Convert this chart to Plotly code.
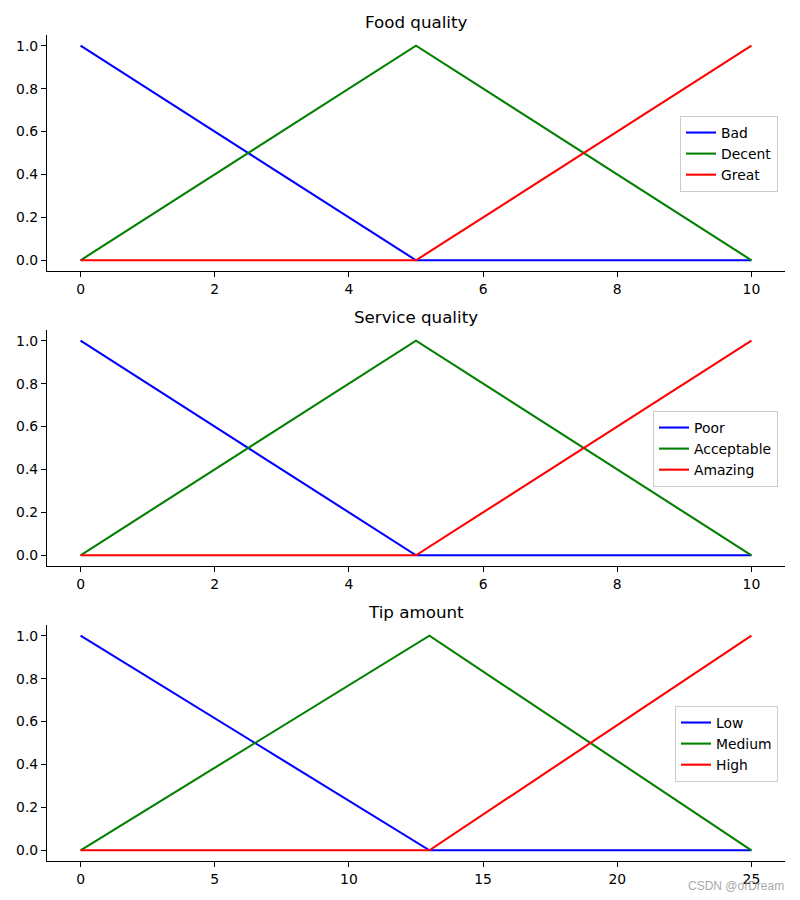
import plotly.graph_objects as go

# Food quality vertices
food_x = [0, 5, 10]
food_bad = [1, 0, 0]
food_decent = [0, 1, 0]
food_great = [0, 0, 1]

# Service quality vertices
serv_x = [0, 5, 10]
serv_poor = [1, 0, 0]
serv_acceptable = [0, 1, 0]
serv_amazing = [0, 0, 1]

# Tip amount vertices
tip_x = [0, 13, 25]
tip_low = [1, 0, 0]
tip_medium = [0, 1, 0]
tip_high = [0, 0, 1]

titles = ["Food quality", "Service quality", "Tip amount"]
names = [["Bad", "Decent", "Great"], ["Poor", "Acceptable", "Amazing"], ["Low", "Medium", "High"]]
xs = [food_x, serv_x, tip_x]
ys = [[food_bad, food_decent, food_great],
      [serv_poor, serv_acceptable, serv_amazing],
      [tip_low, tip_medium, tip_high]]
colors = ["#0000ff", "#008000", "#ff0000"]
xtick_vals = [[0, 2, 4, 6, 8, 10], [0, 2, 4, 6, 8, 10], [0, 5, 10, 15, 20, 25]]
xranges = [[-0.5, 10.5], [-0.5, 10.5], [-1.25, 26.25]]

W, H = 800, 900
FONT = "DejaVu Sans"
# pixel geometry (top, bottom) of each axes
ax_px = [(35, 271), (330, 566), (625, 861)]
leg_px = [(778, 116), (778, 411), (778, 706)]
left_px, right_px = 47, 785

fig = go.Figure()
layout = dict(
    width=W, height=H,
    margin=dict(l=0, r=0, t=0, b=0),
    paper_bgcolor="white", plot_bgcolor="white",
    font=dict(family=FONT, size=13.9, color="black"),
    showlegend=True,
    annotations=[],
)

for i in range(3):
    xa = "x" if i == 0 else f"x{i+1}"
    ya = "y" if i == 0 else f"y{i+1}"
    leg = "legend" if i == 0 else f"legend{i+1}"
    for j in range(3):
        fig.add_trace(go.Scatter(
            x=xs[i], y=ys[i][j], mode="lines", name=names[i][j],
            line=dict(color=colors[j], width=2.08),
            xaxis=xa, yaxis=ya, legend=leg,
        ))
    top, bot = ax_px[i]
    xkey = "xaxis" if i == 0 else f"xaxis{i+1}"
    ykey = "yaxis" if i == 0 else f"yaxis{i+1}"
    layout[xkey] = dict(
        domain=[left_px / W, right_px / W], anchor=ya, range=xranges[i],
        tickvals=xtick_vals[i], ticks="outside", ticklen=5, tickwidth=1.1, tickcolor="black",
        showline=True, linecolor="black", linewidth=1.1, showgrid=False, zeroline=False,
        tickfont=dict(family=FONT, size=13.9, color="black"),
    )
    layout[ykey] = dict(
        domain=[1 - bot / H, 1 - top / H], anchor=xa, range=[-0.05, 1.05],
        tickvals=[0, 0.2, 0.4, 0.6, 0.8, 1.0], tickformat=".1f",
        ticks="outside", ticklen=5, tickwidth=1.1, tickcolor="black",
        showline=True, linecolor="black", linewidth=1.1, showgrid=False, zeroline=False,
        tickfont=dict(family=FONT, size=13.9, color="black"),
    )
    lx, ly = leg_px[i]
    layout[leg] = dict(
        x=lx / W, y=1 - ly / H, xanchor="right", yanchor="top",
        xref="paper", yref="paper",
        bgcolor="rgba(255,255,255,0.8)", bordercolor="#cccccc", borderwidth=1,
        font=dict(family=FONT, size=13.9, color="black"), itemwidth=30,
        tracegroupgap=0,
    )
    layout["annotations"].append(dict(
        text=titles[i], x=(left_px + right_px) / 2 / W, y=1 - (top - 13) / H,
        xref="paper", yref="paper", xanchor="center", yanchor="middle",
        showarrow=False, font=dict(family=FONT, size=16.7, color="black"),
    ))

layout["annotations"].append(dict(
    text="CSDN @orDream", x=786 / W, y=1 - 886 / H, xref="paper", yref="paper",
    xanchor="right", yanchor="middle", showarrow=False,
    font=dict(family="Liberation Sans", size=12, color="rgba(150,150,150,0.85)"),
))

fig.update_layout(**layout)
fig.write_html(
    "out.html",
    config={"displayModeBar": False},
    post_script="document.body.style.margin='0';document.body.style.overflow='hidden';",
)
